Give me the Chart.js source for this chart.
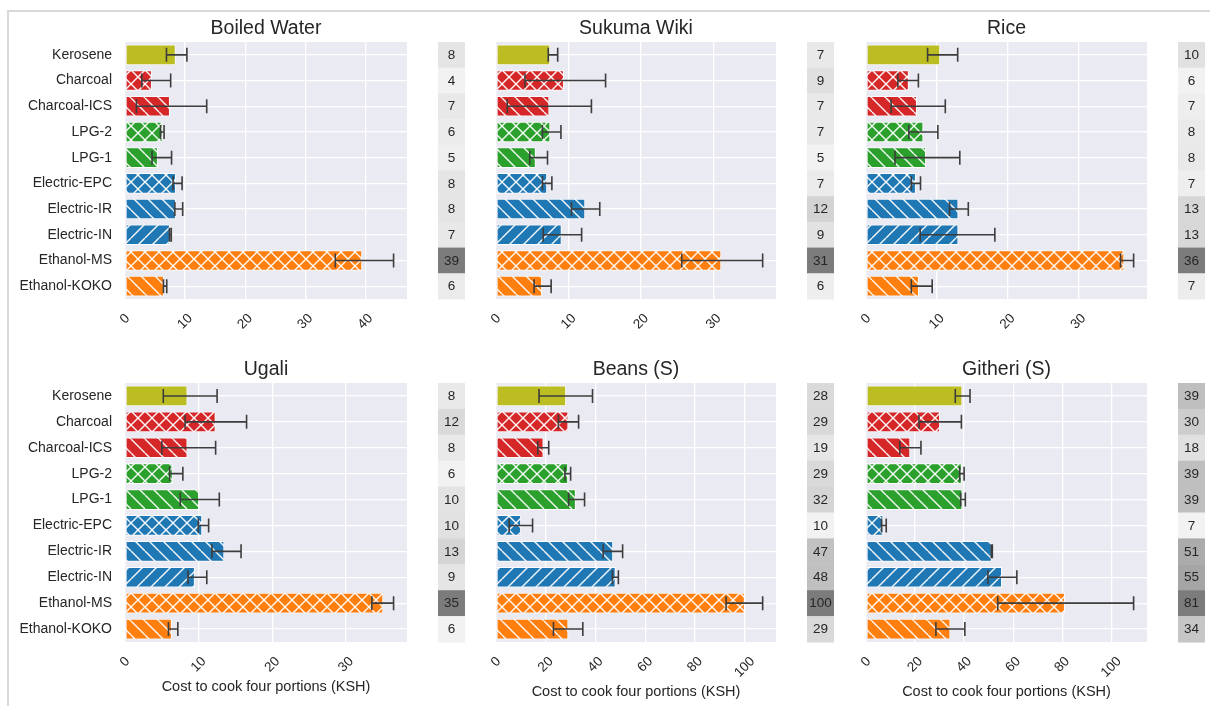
<!DOCTYPE html>
<html>
<head>
<meta charset="utf-8">
<script src="https://cdn.jsdelivr.net/npm/chart.js@4.4.1/dist/chart.umd.min.js"></script>
<style>
  html, body { margin: 0; padding: 0; background: #ffffff; width: 1210px; height: 706px; overflow: hidden; }
  #frame { position: absolute; left: 7px; top: 10px; width: 1220px; height: 720px;
           border-top: 2px solid #d9d9d9; border-left: 2px solid #d9d9d9; }
  canvas { position: absolute; }
</style>
</head>
<body>
<div id="frame"></div>
<script>
// ---- categories ----
const stoves = ['Kerosene', 'Charcoal', 'Charcoal-ICS', 'LPG-2', 'LPG-1',
                'Electric-EPC', 'Electric-IR', 'Electric-IN', 'Ethanol-MS', 'Ethanol-KOKO'];
const stoveColors = ['#bcbd22', '#d62728', '#d62728', '#2ca02c', '#2ca02c',
                     '#1f77b4', '#1f77b4', '#1f77b4', '#ff7f0e', '#ff7f0e'];
const stoveHatch = ['', 'x', '\\', 'x', '\\', 'x', '\\', '/', 'x', '\\'];

// ---- cost to cook four portions (KSH): mean, and error-bar low / high ----
const boiledWaterCost = [8.45, 4.48, 7.48, 6.25, 5.48, 8.48, 8.48, 7.48, 39.48, 6.48];
const boiledWaterLow  = [6.9, 2.8, 1.9, 5.9, 4.5, 8.0, 8.3, 7.4, 35.0, 6.4];
const boiledWaterHigh = [10.3, 7.6, 13.6, 6.5, 7.75, 9.5, 9.6, 7.7, 44.7, 6.95];

const sukumaWikiCost = [7.48, 9.36, 7.35, 7.48, 5.48, 7.05, 12.3, 9.05, 31.05, 6.35];
const sukumaWikiLow  = [7.2, 4.0, 1.55, 6.4, 4.65, 6.4, 10.4, 6.5, 25.6, 5.25];
const sukumaWikiHigh = [8.5, 15.1, 13.15, 8.95, 7.1, 7.7, 14.3, 11.8, 36.75, 7.6];

const riceCost = [10.48, 6.05, 7.2, 8.1, 8.48, 7.05, 13.05, 13.05, 36.48, 7.48];
const riceLow  = [8.7, 4.5, 3.55, 6.05, 4.1, 6.4, 11.8, 7.65, 35.95, 6.4];
const riceHigh = [12.95, 7.4, 11.2, 10.15, 13.25, 7.7, 14.45, 18.2, 37.8, 9.35];

const ugaliCost = [8.48, 12.3, 8.48, 6.48, 10.05, 10.48, 13.48, 9.48, 35.05, 6.36];
const ugaliLow  = [5.2, 8.15, 5.0, 6.05, 7.5, 9.95, 11.8, 8.55, 33.5, 5.9];
const ugaliHigh = [12.5, 16.5, 12.3, 7.85, 12.8, 11.35, 15.75, 11.1, 36.45, 7.17];

const beansCost = [28.2, 29.1, 19.1, 29.0, 32.1, 10.1, 47.1, 48.1, 100.0, 29.1];
const beansLow  = [17.3, 25.1, 16.8, 27.7, 29.2, 5.3, 43.1, 46.8, 92.5, 23.1];
const beansHigh = [38.8, 33.2, 21.2, 30.0, 35.6, 14.7, 50.9, 49.2, 107.2, 34.9];

const githeriCost = [39.3, 30.2, 18.05, 39.05, 39.3, 7.05, 51.3, 55.45, 81.1, 34.4];
const githeriLow  = [36.4, 21.6, 13.8, 38.2, 38.6, 6.35, 51.1, 49.7, 53.7, 28.5];
const githeriHigh = [42.4, 38.9, 22.4, 40.0, 40.5, 8.25, 51.5, 61.5, 109.1, 40.3];

// ---- tick labels ----
const ticksTo40  = [0, 10, 20, 30, 40];
const ticksTo30  = [0, 10, 20, 30];
const ticksTo100 = [0, 20, 40, 60, 80, 100];

const xTitle = 'Cost to cook four portions (KSH)';

const panels = [
  { title: 'Boiled Water', cost: boiledWaterCost, low: boiledWaterLow, high: boiledWaterHigh, ticks: ticksTo40,  col: 0, row: 0 },
  { title: 'Sukuma Wiki',  cost: sukumaWikiCost,  low: sukumaWikiLow,  high: sukumaWikiHigh,  ticks: ticksTo30,  col: 1, row: 0 },
  { title: 'Rice',         cost: riceCost,        low: riceLow,        high: riceHigh,        ticks: ticksTo30,  col: 2, row: 0 },
  { title: 'Ugali',        cost: ugaliCost,       low: ugaliLow,       high: ugaliHigh,       ticks: ticksTo30,  col: 0, row: 1 },
  { title: 'Beans (S)',    cost: beansCost,       low: beansLow,       high: beansHigh,       ticks: ticksTo100, col: 1, row: 1 },
  { title: 'Githeri (S)',  cost: githeriCost,     low: githeriLow,     high: githeriHigh,     ticks: ticksTo100, col: 2, row: 1 }
];

// ---- grid geometry (plot areas in page pixels) ----
const plotLeft  = [125, 496, 866];
const plotRight = [407, 776, 1147];
const plotTop   = [42, 383];
const plotBottom= [299, 642];
const labelRoom = 120;     // space left of a plot for stove names
const heatGap = 31, heatWidth = 27;
const FONT = '"Liberation Sans", Arial, sans-serif';
const TEXT = '#262626';

function makeHatch(color, kind) {
  const s = 14;
  const c = document.createElement('canvas');
  c.width = s; c.height = s;
  const g = c.getContext('2d');
  g.fillStyle = color;
  g.fillRect(0, 0, s, s);
  if (!kind) return color;
  g.strokeStyle = 'rgba(255,255,255,0.95)';
  g.lineWidth = 1.4;
  const seg = (x1, y1, x2, y2) => { g.beginPath(); g.moveTo(x1, y1); g.lineTo(x2, y2); g.stroke(); };
  for (let k = -1; k <= 1; k++) {
    if (kind === '/' || kind === 'x') seg(k * s, s, k * s + s, 0);
    if (kind === '\\' || kind === 'x') seg(k * s, 0, k * s + s, s);
  }
  return g.createPattern(c, 'repeat');
}
const stoveFills = stoves.map((s, i) => makeHatch(stoveColors[i], stoveHatch[i]));

function greyFor(v, lo, hi) {
  const t = hi > lo ? (v - lo) / (hi - lo) : 0;
  const g = Math.round(242 - t * (242 - 124));
  return `rgb(${g},${g},${g})`;
}

function panelPlugin(p) {
  return {
    id: 'panel',
    beforeDraw(chart) {
      const a = chart.chartArea, ctx = chart.ctx;
      ctx.save();
      ctx.fillStyle = '#eaeaf2';
      ctx.fillRect(a.left, a.top, a.right - a.left, a.bottom - a.top);
      ctx.restore();
    },
    afterDatasetsDraw(chart) {
      const ctx = chart.ctx, xs = chart.scales.x, ys = chart.scales.y;
      ctx.save();
      ctx.strokeStyle = '#3d3d3d';
      ctx.lineWidth = 1.6;
      p.cost.forEach((v, i) => {
        const y = ys.getPixelForValue(i);
        const x1 = xs.getPixelForValue(p.low[i]);
        const x2 = xs.getPixelForValue(p.high[i]);
        ctx.beginPath();
        ctx.moveTo(x1, y); ctx.lineTo(x2, y);
        ctx.moveTo(x1, y - 7); ctx.lineTo(x1, y + 7);
        ctx.moveTo(x2, y - 7); ctx.lineTo(x2, y + 7);
        ctx.stroke();
      });
      ctx.restore();
    },
    afterDraw(chart) {
      const ctx = chart.ctx, a = chart.chartArea, xs = chart.scales.x, ys = chart.scales.y;
      ctx.save();
      // title
      ctx.fillStyle = TEXT;
      ctx.font = `19.5px ${FONT}`;
      ctx.textAlign = 'center';
      ctx.textBaseline = 'middle';
      ctx.fillText(p.title, (a.left + a.right) / 2, a.top - 13.5);

      // rotated x tick labels, centred under each tick
      ctx.font = `13.5px ${FONT}`;
      let lowest = a.bottom;
      xs.ticks.forEach(t => {
        const label = String(t.value);
        const w = ctx.measureText(label).width;
        const half = (w + 12) * 0.7071 / 2;
        const cx = xs.getPixelForValue(t.value);
        const cy = a.bottom + 13 + half;
        lowest = Math.max(lowest, cy + half);
        ctx.save();
        ctx.translate(cx, cy);
        ctx.rotate(-Math.PI / 4);
        ctx.fillText(label, 0, 0);
        ctx.restore();
      });

      // axis title on the bottom row
      if (p.row === 1) {
        ctx.font = `14.5px ${FONT}`;
        ctx.fillText(xTitle, (a.left + a.right) / 2, lowest + 13);
      }

      // value column beside the plot
      const lo = Math.min(...p.cost), hi = Math.max(...p.cost);
      const band = ys.getPixelForValue(1) - ys.getPixelForValue(0);
      const hx = a.right + heatGap;
      ctx.font = `13.5px ${FONT}`;
      p.cost.forEach((v, i) => {
        const yc = ys.getPixelForValue(i);
        ctx.fillStyle = greyFor(v, lo, hi);
        ctx.fillRect(hx, yc - band / 2, heatWidth, band + 0.5);
        ctx.fillStyle = TEXT;
        ctx.fillText(String(Math.round(v)), hx + heatWidth / 2, yc + 0.5);
      });
      ctx.restore();
    }
  };
}

panels.forEach(p => {
  const left = plotLeft[p.col] - labelRoom;
  const top = plotTop[p.row] - 42;
  const width = plotRight[p.col] + heatGap + heatWidth + 4 - left;
  const height = plotBottom[p.row] + 64 - top;
  const cv = document.createElement('canvas');
  cv.width = width; cv.height = height;
  cv.style.left = left + 'px'; cv.style.top = top + 'px';
  cv.style.width = width + 'px'; cv.style.height = height + 'px';
  document.body.appendChild(cv);

  const xMax = Math.max(...p.high) * 1.05;
  const rightPad = width - (plotRight[p.col] - left);

  new Chart(cv, {
    type: 'bar',
    data: {
      labels: stoves,
      datasets: [{
        data: p.cost,
        backgroundColor: stoveFills,
        borderColor: 'rgba(255,255,255,0.9)',
        borderWidth: 1,
        borderSkipped: false,
        barPercentage: 0.8,
        categoryPercentage: 1
      }]
    },
    options: {
      indexAxis: 'y',
      responsive: false,
      animation: false,
      devicePixelRatio: 1,
      layout: { padding: { left: 0, top: 42, right: rightPad, bottom: 64 } },
      plugins: { legend: { display: false }, tooltip: { enabled: false }, title: { display: false } },
      scales: {
        x: {
          type: 'linear', min: 0, max: xMax,
          grid: { color: '#ffffff', lineWidth: 1.3, drawTicks: false },
          border: { display: false },
          ticks: { display: false, includeBounds: false },
          afterBuildTicks: s => { s.ticks = p.ticks.map(v => ({ value: v })); },
          afterFit: s => { s.height = 0; }
        },
        y: {
          grid: { color: '#ffffff', lineWidth: 1.3, drawTicks: false, offset: false },
          border: { display: false },
          ticks: { display: p.col === 0, color: TEXT, font: { family: FONT, size: 14 }, padding: 13, autoSkip: false },
          afterFit: s => { s.width = labelRoom; }
        }
      }
    },
    plugins: [panelPlugin(p)]
  });
});
</script>
</body>
</html>
